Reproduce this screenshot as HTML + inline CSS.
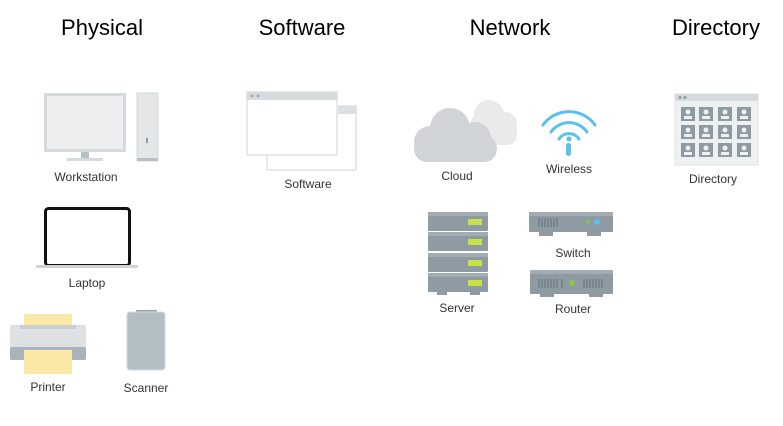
<!DOCTYPE html>
<html><head><style>
html,body{margin:0;padding:0;background:#fff;}
svg{display:block;font-family:"Liberation Sans",sans-serif;}
</style></head><body>
<svg width="783" height="426" viewBox="0 0 783 426" xmlns="http://www.w3.org/2000/svg">
<g font-size="22" fill="#000" text-anchor="middle">
<text x="102" y="35">Physical</text>
<text x="302" y="35">Software</text>
<text x="510" y="35">Network</text>
<text x="716" y="35">Directory</text>
</g>
<g font-size="12" fill="#333" text-anchor="middle">
<text x="86" y="181">Workstation</text>
<text x="87" y="287">Laptop</text>
<text x="48" y="391">Printer</text>
<text x="146" y="392">Scanner</text>
<text x="308" y="188">Software</text>
<text x="457" y="180">Cloud</text>
<text x="569" y="173">Wireless</text>
<text x="713" y="183">Directory</text>
<text x="457" y="312">Server</text>
<text x="573" y="257">Switch</text>
<text x="573" y="313">Router</text>
</g>
<!-- workstation -->
<rect x="44" y="93" width="82" height="59" fill="#d5dadc"/>
<rect x="47" y="96" width="76" height="53" fill="#eceeef"/>
<rect x="81" y="152" width="8" height="6" fill="#b7c0c4"/>
<rect x="67" y="158" width="36" height="3" fill="#d5dadc"/>
<rect x="137" y="93" width="21" height="68" fill="#e4e7e8" stroke="#d5dadc"/>
<rect x="137" y="158" width="21" height="3" fill="#b7c0c4"/>
<rect x="146" y="138" width="2" height="5" fill="#8e9ba2"/>
<!-- laptop -->
<rect x="45.5" y="208.5" width="84" height="57" rx="3" fill="#fff" stroke="#111" stroke-width="3"/>
<rect x="36" y="265" width="102" height="3" fill="#cfd4d6"/>
<!-- printer -->
<rect x="24" y="314" width="48" height="14" fill="#fbe7a6"/>
<rect x="10" y="325" width="76" height="24" rx="2" fill="#dde1e4"/>
<rect x="20" y="325" width="56" height="4" fill="#c9cfd2"/>
<rect x="10" y="347" width="76" height="13" rx="2" fill="#a9b3b9"/>
<rect x="24" y="350" width="48" height="24" fill="#fbe7a6"/>
<!-- scanner -->
<rect x="136" y="310" width="21" height="4" fill="#9aa6ac"/>
<rect x="127" y="312" width="38" height="58" rx="3" fill="#b3bec3" stroke="#d5dadc"/>
<!-- software -->
<rect x="267" y="106" width="89" height="64" fill="#fff" stroke="#e6e8ea" stroke-width="2"/>
<rect x="338" y="106" width="18" height="8" fill="#dde0e2"/>
<rect x="247" y="92" width="90" height="63" fill="#fff" stroke="#e6e8ea" stroke-width="2"/>
<rect x="247" y="92" width="90" height="8" fill="#d7dbdd"/>
<circle cx="252" cy="96" r="1.5" fill="#aab"/><circle cx="258" cy="96" r="1.5" fill="#aab"/>
<!-- cloud -->
<g fill="#e8eaeb">
<circle cx="489" cy="115" r="15"/><circle cx="505" cy="124" r="12"/><rect x="470" y="115" width="47" height="30" rx="10"/>
</g>
<g fill="#d1d4d6">
<circle cx="450" cy="128" r="20"/><circle cx="475" cy="138" r="16"/><circle cx="430" cy="142" r="16"/>
<rect x="414" y="135" width="83" height="27" rx="13"/>
</g>
<!-- wireless -->
<g fill="none" stroke="#5bc0eb" stroke-width="3" stroke-linecap="round">
<path d="M543 125 A32 32 0 0 1 595 125"/>
<path d="M551 132 A22 22 0 0 1 587 132"/>
<path d="M559 139 A12 12 0 0 1 579 139"/>
</g>
<circle cx="569" cy="139" r="2.5" fill="#5bc0eb"/>
<rect x="566" y="143" width="5" height="13" rx="2.5" fill="#5bc0eb"/>
<!-- server -->
<g>
<rect x="428" y="212" width="60" height="19" rx="1" fill="#8e9ba2"/>
<rect x="428" y="232" width="60" height="19" rx="1" fill="#8e9ba2"/>
<rect x="428" y="253" width="60" height="19" rx="1" fill="#8e9ba2"/>
<rect x="428" y="273" width="60" height="19" rx="1" fill="#8e9ba2"/>
<g fill="#a2adb3"><rect x="428" y="212" width="60" height="4"/><rect x="428" y="232" width="60" height="4"/><rect x="428" y="253" width="60" height="4"/><rect x="428" y="273" width="60" height="4"/></g>
<g fill="#c8e04a"><rect x="468" y="219" width="14" height="6"/><rect x="468" y="239" width="14" height="6"/><rect x="468" y="260" width="14" height="6"/><rect x="468" y="280" width="14" height="6"/></g>
<rect x="437" y="292" width="10" height="3" fill="#8e9ba2"/><rect x="470" y="292" width="10" height="3" fill="#8e9ba2"/>
</g>
<!-- switch -->
<rect x="529" y="212" width="84" height="20" rx="1" fill="#8e9ba2"/>
<rect x="529" y="212" width="84" height="4" fill="#a2adb3"/>
<rect x="539" y="232" width="14" height="4" fill="#8e9ba2"/><rect x="587" y="232" width="14" height="4" fill="#8e9ba2"/>
<g stroke="#6b777d" stroke-width="1.2"><path d="M539 218v9M542 218v9M545 218v9M548 218v9M551 218v9M554 218v9M557 218v9"/></g>
<circle cx="588" cy="222" r="2" fill="#8bc34a"/><circle cx="597" cy="222" r="3" fill="#5bc0eb"/>
<!-- router -->
<rect x="530" y="270" width="83" height="24" rx="1" fill="#8e9ba2"/>
<rect x="530" y="270" width="83" height="4" fill="#a2adb3"/>
<rect x="540" y="294" width="14" height="3" fill="#8e9ba2"/><rect x="589" y="294" width="14" height="3" fill="#8e9ba2"/>
<g stroke="#6b777d" stroke-width="1.2"><path d="M539 279v9M542 279v9M545 279v9M548 279v9M551 279v9M554 279v9M557 279v9M562 279v9M584 279v9M587 279v9M590 279v9M593 279v9M596 279v9M599 279v9M602 279v9"/></g>
<circle cx="572" cy="283" r="3" fill="#8bc34a"/>
<!-- directory -->
<rect x="675" y="94" width="83" height="71" fill="#eef0f1" stroke="#e2e5e6"/>
<rect x="675" y="94" width="83" height="7" fill="#d5dadc"/>
<circle cx="680" cy="97.5" r="1.5" fill="#8e9ba2"/><circle cx="685" cy="97.5" r="1.5" fill="#8e9ba2"/>
<g fill="#8e9ba2">
<rect x="681" y="107" width="14" height="14"/><rect x="699" y="107" width="14" height="14"/><rect x="718" y="107" width="14" height="14"/><rect x="737" y="107" width="14" height="14"/>
<rect x="681" y="125" width="14" height="14"/><rect x="699" y="125" width="14" height="14"/><rect x="718" y="125" width="14" height="14"/><rect x="737" y="125" width="14" height="14"/>
<rect x="681" y="143" width="14" height="14"/><rect x="699" y="143" width="14" height="14"/><rect x="718" y="143" width="14" height="14"/><rect x="737" y="143" width="14" height="14"/>
</g>
<g fill="#eef0f1">
<circle cx="688" cy="112" r="2.5"/><circle cx="706" cy="112" r="2.5"/><circle cx="725" cy="112" r="2.5"/><circle cx="744" cy="112" r="2.5"/>
<circle cx="688" cy="130" r="2.5"/><circle cx="706" cy="130" r="2.5"/><circle cx="725" cy="130" r="2.5"/><circle cx="744" cy="130" r="2.5"/>
<circle cx="688" cy="148" r="2.5"/><circle cx="706" cy="148" r="2.5"/><circle cx="725" cy="148" r="2.5"/><circle cx="744" cy="148" r="2.5"/>
<rect x="684" y="116" width="8" height="3"/><rect x="702" y="116" width="8" height="3"/><rect x="721" y="116" width="8" height="3"/><rect x="740" y="116" width="8" height="3"/>
<rect x="684" y="134" width="8" height="3"/><rect x="702" y="134" width="8" height="3"/><rect x="721" y="134" width="8" height="3"/><rect x="740" y="134" width="8" height="3"/>
<rect x="684" y="152" width="8" height="3"/><rect x="702" y="152" width="8" height="3"/><rect x="721" y="152" width="8" height="3"/><rect x="740" y="152" width="8" height="3"/>
</g>
</svg>
</body></html>
